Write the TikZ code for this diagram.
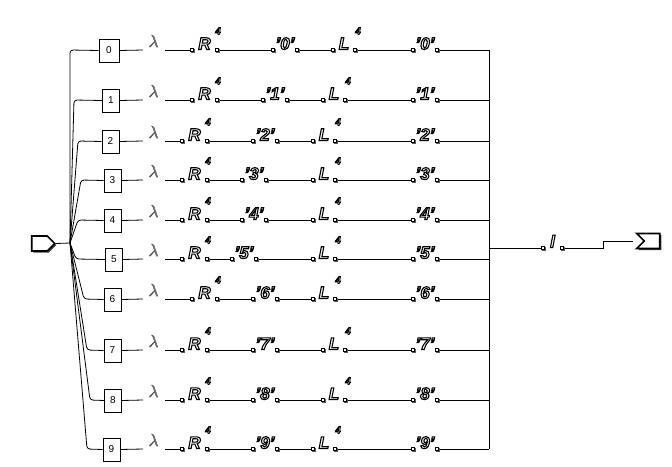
\documentclass[tikz,border=0pt]{standalone}
\usepackage{fontspec}
\setmainfont{Liberation Sans}
\usetikzlibrary{shadows,shapes.symbols}
\pgfdeclarelayer{bg}
\pgfsetlayers{bg,main}
\newcommand\outl[2][1.1]{{\color{white}\special{pdf:literal direct 0 G 2 Tr #1 w}#2\special{pdf:literal direct 0 Tr}}}
\newcommand\glam{{\color{black!45}\special{pdf:literal direct 0.35 G 2 Tr 0.5 w}$\lambda$\special{pdf:literal direct 0 Tr}}}
\newcommand\sq{\char"0027\relax}
\tikzset{
  wire/.style={line width=0.8pt, black},
  nbox/.style={draw, line width=0.7pt, fill=white, minimum height=23pt, inner sep=0pt, font=\fontsize{10}{10}\selectfont},
  tdot/.style={draw, fill=white, line width=0.5pt, minimum size=3.2pt, inner sep=0pt, drop shadow={shadow xshift=1pt, shadow yshift=-1pt, fill=black!65, opacity=1}},
  tok/.style={inner sep=0pt, anchor=base, font=\fontsize{17}{17}\selectfont\bfseries\itshape},
  supn/.style={inner sep=0pt, font=\fontsize{10}{10}\selectfont\bfseries\itshape},
  lam/.style={inner sep=0pt, font=\fontsize{19}{19}\selectfont},
  term/.style={draw, signal, line width=1.7pt, fill=white, inner sep=0pt, minimum width=23pt, minimum height=15pt, signal pointer angle=90, drop shadow={shadow xshift=1.5pt, shadow yshift=-1.5pt, fill=black!75, opacity=1}}
}
\newcommand\tokn[5]{%
  \node[tdot] (#1a) at (#2,#4) {};
  \node[tdot] (#1b) at (#3,#4) {};
  \node[tok] (#1) at ({(#2+#3)/2},{#4-0.5}) {\outl{#5}};
}
\newcommand\supr[4]{%
  \node[supn] (#1) at (#2,#3) {\outl[0.7]{#4}};
}
\begin{document}
\begin{tikzpicture}[x=1pt,y=-1pt]
\useasboundingbox (0,0) rectangle (672,466);
\begin{pgfonlayer}{bg}
\fill[white] (0,0) rectangle (672,466);
\end{pgfonlayer}
\node[term, signal to=east] (in) at (39.5,243.5) {};
\coordinate (J) at (70,243);
\begin{pgfonlayer}{bg}
\draw[wire] (in.east) -- (J);
\end{pgfonlayer}
\foreach \i/\y/\bx/\fx/\ra/\qa/\la in {0/50/109/70/192/273/333, 1/100/111/74/192/263/323, 2/141/110.5/78/182/253/313, 3/180/112.5/81/182/242/313, 4/220/112.5/78/182/242/313, 5/259/114/76/182/232/313, 6/299/112.5/84/192/253/313, 7/350/112.5/87/182/253/323, 8/400/113/90/182/253/323, 9/449/111.5/87/182/253/313}{
  \pgfmathsetmacro\bw{\i==0 ? 20 : 17}
  \pgfmathsetmacro\rb{\ra+25}
  \pgfmathsetmacro\qb{\qa+24}
  \pgfmathsetmacro\lb{\la+22}
  \node[nbox, minimum width=\bw pt] (b\i) at (\bx,\y+0.5) {\i};
  \coordinate (la\i) at (143,\y);
  \coordinate (lb\i) at (165,\y);
  \coordinate (rt\i) at (489,\y);
  \node[lam] (lam\i) at (153.5,\y-9) {\glam};
  \tokn{R\i}{\ra}{\rb}{\y}{R}
  \supr{RS\i}{\rb+1}{\y-19}{4}
  \tokn{Q\i}{\qa}{\qb}{\y}{\sq\i\sq}
  \tokn{L\i}{\la}{\lb}{\y}{L}
  \supr{LS\i}{\lb+3}{\y-19}{4}
  \tokn{P\i}{413}{437}{\y}{\sq\i\sq}
  \begin{pgfonlayer}{bg}
  \draw[wire, rounded corners=3pt] (J) -- (\fx,\y) -- (b\i.west);
  \draw[wire] (b\i.east) -- (la\i);
  \draw[wire] (lb\i) -- (R\i a);
  \draw[wire] (R\i b) -- (Q\i a);
  \draw[wire] (Q\i b) -- (L\i a);
  \draw[wire] (L\i b) -- (P\i a);
  \draw[wire] (P\i b) -- (rt\i);
  \end{pgfonlayer}
}
\coordinate (oj) at (489,248);
\coordinate (st) at (603,248);
\node[term, signal to=nowhere, signal from=west] (out) at (652,241) {};
\coordinate (oe) at ([xshift=-2pt]out.north west |- out.west);
\tokn{O}{543}{562}{248}{l}
\begin{pgfonlayer}{bg}
\draw[wire] (rt0) -- (rt9);
\draw[wire] (oj) -- (Oa);
\draw[wire] (Ob) -- (st) |- (oe);
\end{pgfonlayer}
\end{tikzpicture}
\end{document}
